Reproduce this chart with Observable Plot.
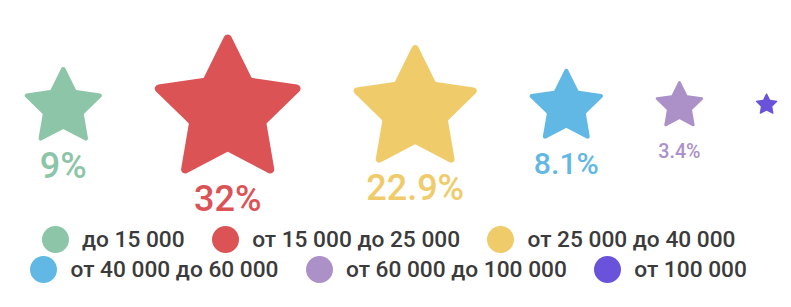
<!DOCTYPE html>
<html>
<head>
<meta charset="utf-8">
<script src="https://cdn.jsdelivr.net/npm/d3@7"></script>
<script src="https://cdn.jsdelivr.net/npm/@observablehq/plot@0.6"></script>
<style>
  html, body { margin: 0; padding: 0; background: #fff; }
  #chart svg { display: block; }
  #legend {
    display: flex; flex-wrap: wrap; justify-content: center;
    column-gap: 27px; width: 791px; box-sizing: border-box; padding-right: 14px;
    font-family: Roboto, sans-serif; font-weight: 500; font-size: 22.7px; color: #3b3b3b;
  }
  .item { display: inline-flex; align-items: center; height: 30px; white-space: nowrap; }
  .sw { width: 27px; height: 27px; border-radius: 50%; margin-right: 13.5px; flex: none; }
</style>
</head>
<body>
<div id="chart"></div>
<div id="legend"></div>
<script>
// ---- data ----
const categories = ["до 15 000", "от 15 000 до 25 000", "от 25 000 до 40 000", "от 40 000 до 60 000", "от 60 000 до 100 000", "от 100 000"];
const shares = [9, 32, 22.9, 8.1, 3.4, 0.7];
const labels = ["9%", "32%", "22.9%", "8.1%", "3.4%", "0.7%"];
const colors = ["#8dc5a8", "#dc5356", "#f0cb6a", "#61b8e5", "#ac90c8", "#6a52da"];

// ---- layout constants ----
const W = 791, H = 224;
const K = 13.73;          // px of visible outer radius per sqrt(share)
const ROW_Y = 103;        // vertical centre of star row
const START = 24, GAP = 52.5;
const MAX_FONT = 36, MIN_FONT = 12;

// rounded five-point star, bbox-centred
const roundedStar = {
  draw(ctx, size) {
    const rv = Math.sqrt(size / Math.PI);
    const R = rv * 1.05, ri = R * 0.5, rho = R * 0.05;
    const off = 0.095 * rv;
    const pts = [];
    for (let i = 0; i < 10; i++) {
      const a = Math.PI * i / 5;
      const rad = i % 2 ? ri : R;
      pts.push([rad * Math.sin(a), -rad * Math.cos(a) + off]);
    }
    const m = [(pts[9][0] + pts[0][0]) / 2, (pts[9][1] + pts[0][1]) / 2];
    ctx.moveTo(m[0], m[1]);
    for (let i = 0; i < 10; i++) {
      const p = pts[i], n = pts[(i + 1) % 10];
      ctx.arcTo(p[0], p[1], n[0], n[1], i % 2 ? rho * 0.3 : rho);
    }
    ctx.closePath();
  }
};

const cv = document.createElement("canvas").getContext("2d");
cv.font = "500 100px Roboto";
const emWidth = (s) => cv.measureText(s).width / 100;

let cursor = START;
const rows = categories.map((c, i) => {
  const rv = K * Math.sqrt(shares[i]);
  const w = 1.883 * rv;
  const cx = cursor + w / 2;
  cursor += w + GAP;
  const fs = Math.min(MAX_FONT, 0.885 * w / emWidth(labels[i]));
  return {
    category: c, share: shares[i], cx,
    ly: ROW_Y + 0.895 * rv + 26,
    label: fs >= MIN_FONT ? labels[i] : "",
    fs
  };
});

const chart = Plot.plot({
  width: W, height: H, margin: 0,
  style: { background: "#fff" },
  x: { type: "linear", domain: [0, W], range: [0, W], axis: null },
  y: { type: "linear", domain: [0, H], range: [0, H], axis: null },
  r: { type: "sqrt", domain: [0, 32], range: [0, K * Math.sqrt(32)] },
  color: { domain: categories, range: colors },
  marks: [
    Plot.dot(rows, { x: "cx", y: () => ROW_Y, r: "share", symbol: roundedStar, fill: "category", stroke: null }),
    Plot.text(rows, { x: "cx", y: "ly", text: "label", fill: "category", fontSize: "fs", fontFamily: "Roboto", fontWeight: 500 })
  ]
});
document.getElementById("chart").appendChild(chart);

const legend = document.getElementById("legend");
categories.forEach((c, i) => {
  const it = document.createElement("span");
  it.className = "item";
  const sw = document.createElement("span");
  sw.className = "sw";
  sw.style.background = colors[i];
  it.appendChild(sw);
  it.appendChild(document.createTextNode(c));
  legend.appendChild(it);
});
</script>
</body>
</html>
